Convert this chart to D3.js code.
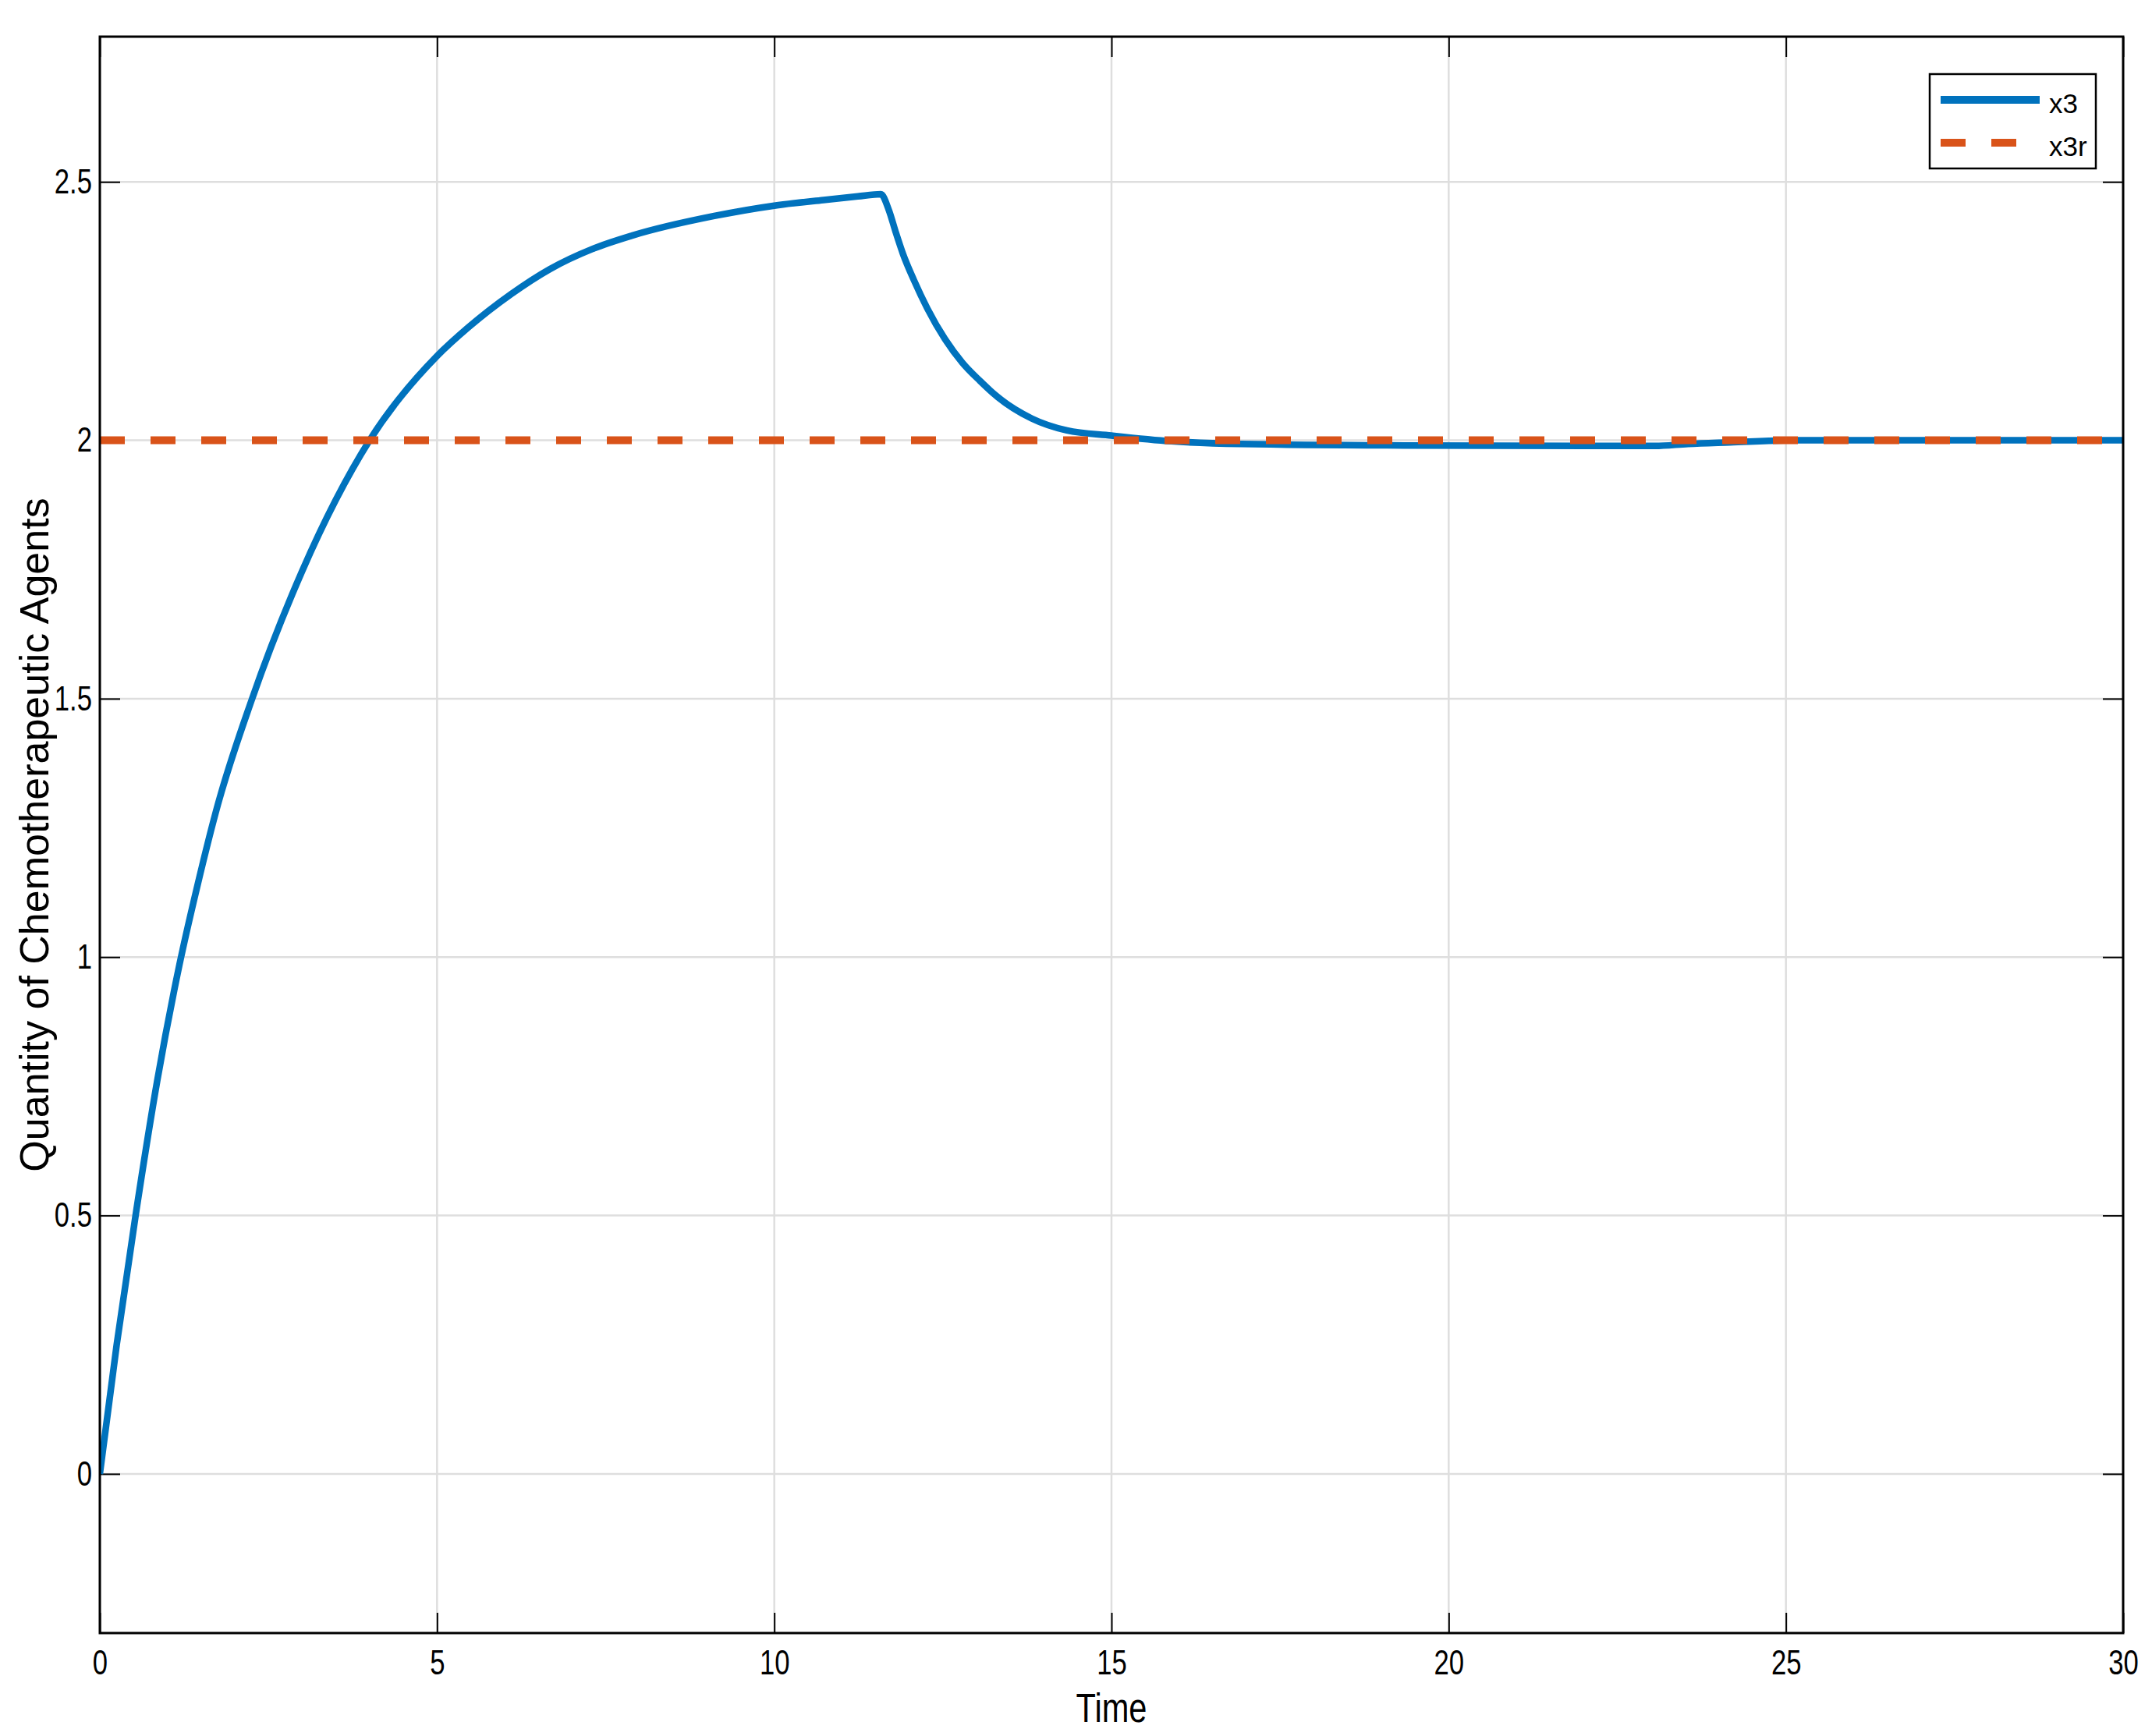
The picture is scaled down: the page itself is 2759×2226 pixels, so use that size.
<!DOCTYPE html>
<html>
<head>
<meta charset="utf-8">
<script src="https://cdnjs.cloudflare.com/ajax/libs/d3/7.8.5/d3.min.js"></script>
<style>
    body { margin: 0; background: #fff; }
    text { font-family: "Liberation Sans", Arial, sans-serif; fill: #000; }
</style>
</head>
<body>
<div id="chart"></div>
<script>

// values
var timeValues = [0, 0.25, 0.53, 0.85, 1.18, 1.45, 1.75, 2.25, 3.0, 4.0, 5.0, 5.46, 6.1, 6.67, 7.3, 7.89, 9.11, 10.0, 10.73, 11.24, 11.58,
    11.7, 11.8, 11.91, 12.07, 12.27, 12.53, 12.79, 13.05, 13.31, 13.82, 14.34, 15.0, 15.89, 16.92, 19.34, 23.06, 23.55, 24.17, 25.1, 30];
var x3Values = [0, 0.25, 0.5, 0.76, 0.985, 1.14, 1.295, 1.497, 1.747, 2.0, 2.163, 2.218, 2.283, 2.331, 2.37, 2.396, 2.434, 2.454, 2.465, 2.472, 2.476,
    2.445, 2.403, 2.36, 2.31, 2.255, 2.196, 2.15, 2.115, 2.084, 2.042, 2.019, 2.009, 1.998, 1.993, 1.990, 1.989, 1.993, 1.996, 2.0, 2.0];
var x3rTime = [0, 30];
var x3rValues = [2, 2];

var xTicks = [0, 5, 10, 15, 20, 25, 30];
var yTicks = [0, 0.5, 1, 1.5, 2, 2.5];
var xDomain = [0, 30];
var yDomain = [-0.308, 2.781];

var seriesNames = ["x3", "x3r"];
var xLabel = "Time";
var yLabel = "Quantity of Chemotherapeutic Agents";

var blue = "#0072BD",
    orange = "#D95319";


LineChart = function(_parentElement){
    this.parentElement = _parentElement;
    this.initVis();
}

LineChart.prototype.initVis = function(){
    var vis = this;

    vis.margin = { top: 47, right: 37, bottom: 132, left: 128 };
    vis.width = 2759 - vis.margin.left - vis.margin.right;
    vis.height = 2226 - vis.margin.top - vis.margin.bottom;

    vis.svg = d3.select("#" + vis.parentElement).append("svg")
        .attr("width", 2759)
        .attr("height", 2226)
        .append("g")
        .attr("transform", "translate(" + vis.margin.left + "," + vis.margin.top + ")");

    vis.svg.append("defs").append("clipPath")
        .attr("id", "clip")
        .append("rect")
        .attr("width", vis.width)
        .attr("height", vis.height);

    vis.x = d3.scaleLinear().domain(xDomain).range([0, vis.width]);
    vis.y = d3.scaleLinear().domain(yDomain).range([vis.height, 0]);

    const TICK = 26;

    // grid
    vis.svg.append("g").attr("class", "grid")
        .selectAll("line.gx").data(xTicks).join("line")
        .attr("x1", d => vis.x(d)).attr("x2", d => vis.x(d))
        .attr("y1", 0).attr("y2", vis.height);
    vis.svg.select(".grid")
        .selectAll("line.gy").data(yTicks).join("line")
        .attr("x1", 0).attr("x2", vis.width)
        .attr("y1", d => vis.y(d)).attr("y2", d => vis.y(d));
    vis.svg.selectAll(".grid line")
        .attr("stroke", "#dedede")
        .attr("stroke-width", 2.5);

    // axes, ticks pointing inward
    vis.xAxis = d3.axisBottom(vis.x).tickValues(xTicks).tickSize(-TICK).tickPadding(21);
    vis.yAxis = d3.axisLeft(vis.y).tickValues(yTicks).tickSize(-TICK).tickFormat(d => d);
    vis.xAxisTop = d3.axisTop(vis.x).tickValues(xTicks).tickSize(-TICK).tickFormat("");
    vis.yAxisRight = d3.axisRight(vis.y).tickValues(yTicks).tickSize(-TICK).tickFormat("");

    var gx = vis.svg.append("g").attr("class", "x-axis axis")
        .attr("transform", "translate(0," + vis.height + ")")
        .call(vis.xAxis);
    gx.selectAll("text")
        .style("font-size", "45px")
        .attr("transform", "scale(0.77,1)");

    var gy = vis.svg.append("g").attr("class", "y-axis axis").call(vis.yAxis);
    gy.selectAll("text")
        .style("font-size", "45px")
        .attr("x", 0)
        .attr("transform", "translate(-10,0) scale(0.77,1)");

    vis.svg.append("g").attr("class", "axis").call(vis.xAxisTop);
    vis.svg.append("g").attr("class", "axis")
        .attr("transform", "translate(" + vis.width + ",0)")
        .call(vis.yAxisRight);

    vis.svg.selectAll(".axis .domain").remove();
    vis.svg.selectAll(".axis .tick line")
        .attr("stroke", "#000")
        .attr("stroke-width", 2);

    // axis titles
    vis.svg.append("text")
        .attr("class", "x-axis-label")
        .style("font-size", "52px")
        .attr("text-anchor", "middle")
        .attr("transform", "translate(" + (vis.width / 2) + "," + (vis.height + 114) + ") scale(0.8,1)")
        .text(xLabel);

    vis.svg.append("text")
        .attr("class", "y-axis-label")
        .style("font-size", "52px")
        .attr("text-anchor", "middle")
        .attr("transform", "translate(-66," + (vis.height / 2) + ")rotate(-90)")
        .text(yLabel);

    vis.line = d3.line()
        .x(d => vis.x(d.t))
        .y(d => vis.y(d.v))
        .curve(d3.curveMonotoneX);

    vis.wrangleData();
}

LineChart.prototype.wrangleData = function(){
    var vis = this;

    vis.displayData = [
        { name: seriesNames[0], color: blue, width: 8.5, dash: null,
          values: timeValues.map((t, i) => ({ t: t, v: x3Values[i] })) },
        { name: seriesNames[1], color: orange, width: 10, dash: "32,33",
          values: x3rTime.map((t, i) => ({ t: t, v: x3rValues[i] })) }
    ];

    vis.updateVis();
}

LineChart.prototype.updateVis = function(){
    var vis = this;

    vis.svg.append("g")
        .attr("clip-path", "url(#clip)")
        .selectAll(".series")
        .data(vis.displayData)
        .join("path")
        .attr("class", "series")
        .attr("fill", "none")
        .attr("stroke", d => d.color)
        .attr("stroke-width", d => d.width)
        .attr("stroke-dasharray", d => d.dash)
        .attr("d", d => vis.line(d.values));

    // axes box on top
    vis.svg.append("rect")
        .attr("width", vis.width)
        .attr("height", vis.height)
        .attr("fill", "none")
        .attr("stroke", "#000")
        .attr("stroke-width", 3);

    // legend
    var legend = vis.svg.append("g")
        .attr("class", "legend")
        .attr("transform", "translate(" + (vis.width - 248) + ",48)");

    legend.append("rect")
        .attr("width", 213)
        .attr("height", 121)
        .attr("fill", "#fff")
        .attr("stroke", "#000")
        .attr("stroke-width", 2.5);

    var items = legend.selectAll(".legend-item")
        .data(vis.displayData)
        .join("g")
        .attr("class", "legend-item")
        .attr("transform", (d, i) => "translate(0," + (33 + i * 55) + ")");

    items.append("line")
        .attr("x1", 14).attr("x2", 141)
        .attr("stroke", d => d.color)
        .attr("stroke-width", 10)
        .attr("stroke-dasharray", d => d.dash);

    items.append("text")
        .attr("x", 153)
        .attr("y", 17)
        .style("font-size", "35px")
        .text(d => d.name);
}

new LineChart("chart");
</script>
</body>
</html>
